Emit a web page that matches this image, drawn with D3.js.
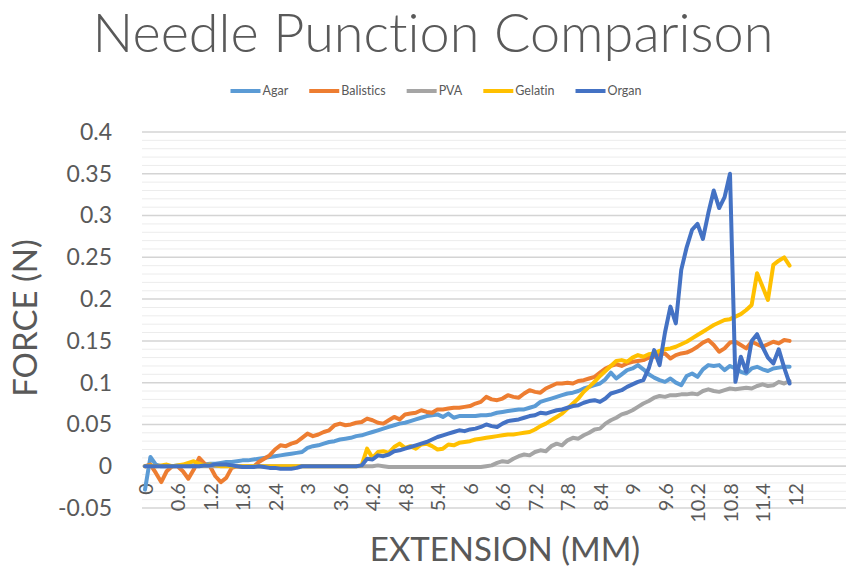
<!DOCTYPE html>
<html>
<head>
<meta charset="utf-8">
<script src="https://cdn.jsdelivr.net/npm/d3@7"></script>
<style>
  html, body { margin: 0; padding: 0; background: #fff; }
  svg { display: block; }
  text { font-family: Lato, "Open Sans", sans-serif; fill: #595959; font-variant-ligatures: none; }
</style>
</head>
<body>
<svg id="chart" width="859" height="569"></svg>
<script>
const title = "Needle Punction Comparison";
const xTitle = "EXTENSION (MM)";
const yTitle = "FORCE (N)";
const seriesNames = ["Agar", "Balistics", "PVA", "Gelatin", "Organ"];
const seriesColors = ["#5B9BD5", "#ED7D31", "#A5A5A5", "#FFC000", "#4472C4"];
const xTicks = [0, 0.6, 1.2, 1.8, 2.4, 3, 3.6, 4.2, 4.8, 5.4, 6, 6.6, 7.2, 7.8, 8.4, 9, 9.6, 10.2, 10.8, 11.4, 12];
const yTicks = [-0.05, 0, 0.05, 0.1, 0.15, 0.2, 0.25, 0.3, 0.35, 0.4];

const extension = [
  0.0,0.1,0.2,0.3,0.4,0.5,0.6,0.7,0.8,0.9,
  1.0,1.1,1.2,1.3,1.4,1.5,1.6,1.7,1.8,1.9,
  2.0,2.1,2.2,2.3,2.4,2.5,2.6,2.7,2.8,2.9,
  3.0,3.1,3.2,3.3,3.4,3.5,3.6,3.7,3.8,3.9,
  4.0,4.1,4.2,4.3,4.4,4.5,4.6,4.7,4.8,4.9,
  5.0,5.1,5.2,5.3,5.4,5.5,5.6,5.7,5.8,5.9,
  6.0,6.1,6.2,6.3,6.4,6.5,6.6,6.7,6.8,6.9,
  7.0,7.1,7.2,7.3,7.4,7.5,7.6,7.7,7.8,7.9,
  8.0,8.1,8.2,8.3,8.4,8.5,8.6,8.7,8.8,8.9,
  9.0,9.1,9.2,9.3,9.4,9.5,9.6,9.7,9.8,9.9,
  10.0,10.1,10.2,10.3,10.4,10.5,10.6,10.7,10.8,10.9,
  11.0,11.1,11.2,11.3,11.4,11.5,11.6,11.7,11.8,11.9
];

const agar = [
  -0.028,0.011,0.002,0.000,0.000,0.000,0.001,0.001,0.001,0.001,
  0.002,0.002,0.003,0.003,0.004,0.005,0.005,0.006,0.007,0.007,
  0.008,0.009,0.010,0.011,0.012,0.013,0.014,0.015,0.016,0.017,
  0.022,0.024,0.025,0.027,0.029,0.030,0.032,0.033,0.034,0.036,
  0.037,0.039,0.041,0.043,0.045,0.047,0.049,0.051,0.052,0.054,
  0.056,0.058,0.060,0.061,0.062,0.059,0.063,0.058,0.060,0.060,
  0.060,0.060,0.061,0.061,0.062,0.064,0.065,0.066,0.067,0.068,
  0.068,0.070,0.072,0.077,0.079,0.081,0.083,0.085,0.087,0.088,
  0.090,0.093,0.095,0.097,0.099,0.104,0.112,0.105,0.110,0.115,
  0.117,0.121,0.116,0.110,0.106,0.103,0.101,0.105,0.100,0.097,
  0.108,0.111,0.107,0.116,0.121,0.120,0.121,0.115,0.120,0.117,
  0.113,0.111,0.117,0.119,0.116,0.114,0.117,0.118,0.119,0.119
];

const balistics = [
  0.000,0.002,-0.008,-0.019,-0.006,0.000,0.000,-0.006,-0.015,-0.004,
  0.010,0.003,0.000,-0.012,-0.019,-0.014,-0.002,0.000,-0.001,-0.001,
  -0.001,0.005,0.009,0.013,0.020,0.025,0.024,0.027,0.029,0.034,
  0.039,0.036,0.038,0.041,0.043,0.049,0.051,0.049,0.050,0.052,
  0.053,0.057,0.055,0.052,0.051,0.055,0.059,0.056,0.062,0.063,
  0.064,0.067,0.065,0.064,0.068,0.068,0.069,0.070,0.070,0.071,
  0.072,0.075,0.077,0.083,0.080,0.079,0.081,0.085,0.083,0.082,
  0.087,0.091,0.089,0.088,0.093,0.096,0.099,0.099,0.100,0.099,
  0.102,0.103,0.105,0.107,0.112,0.117,0.120,0.122,0.120,0.123,
  0.125,0.126,0.127,0.130,0.131,0.134,0.135,0.129,0.133,0.135,
  0.136,0.139,0.143,0.148,0.151,0.145,0.137,0.141,0.148,0.149,
  0.145,0.141,0.149,0.146,0.143,0.146,0.149,0.147,0.151,0.150
];

const pva = [
  0.000,0.000,0.000,0.000,0.000,0.000,0.000,0.000,0.000,0.000,
  0.000,0.000,0.000,0.000,0.000,0.000,0.000,0.000,0.000,0.000,
  0.000,0.000,0.000,0.000,0.000,0.000,0.000,0.000,0.000,0.000,
  0.000,0.000,0.000,0.000,0.000,0.000,0.000,0.000,0.000,0.000,
  0.000,0.000,0.000,0.001,0.000,-0.001,-0.001,-0.001,-0.001,-0.001,
  -0.001,-0.001,-0.001,-0.001,-0.001,-0.001,-0.001,-0.001,-0.001,-0.001,
  -0.001,-0.001,-0.001,0.000,0.001,0.004,0.006,0.005,0.009,0.012,
  0.014,0.013,0.017,0.019,0.018,0.024,0.027,0.025,0.031,0.034,
  0.033,0.037,0.040,0.044,0.045,0.051,0.055,0.058,0.062,0.064,
  0.067,0.071,0.075,0.078,0.082,0.084,0.083,0.085,0.085,0.086,
  0.086,0.087,0.086,0.090,0.092,0.090,0.089,0.091,0.093,0.092,
  0.093,0.094,0.093,0.096,0.098,0.096,0.097,0.101,0.099,0.102
];

const gelatin = [
  0.000,0.001,0.000,0.001,0.002,0.000,0.001,0.002,0.004,0.006,
  0.003,0.001,0.002,0.001,0.000,0.000,0.000,0.000,0.000,0.000,
  0.000,0.000,0.000,0.000,0.000,0.000,0.000,0.000,0.000,0.000,
  0.000,0.000,0.000,0.000,0.000,0.000,0.000,0.000,0.000,0.000,
  0.001,0.021,0.010,0.017,0.018,0.016,0.023,0.027,0.022,0.024,
  0.021,0.026,0.027,0.024,0.020,0.021,0.026,0.025,0.028,0.029,
  0.030,0.032,0.033,0.034,0.035,0.036,0.037,0.038,0.038,0.039,
  0.040,0.041,0.044,0.048,0.051,0.055,0.059,0.063,0.069,0.075,
  0.081,0.089,0.095,0.101,0.108,0.114,0.120,0.126,0.127,0.125,
  0.130,0.133,0.131,0.134,0.135,0.138,0.140,0.141,0.143,0.146,
  0.149,0.153,0.157,0.161,0.165,0.169,0.172,0.175,0.176,0.179,
  0.182,0.187,0.193,0.231,0.215,0.199,0.241,0.246,0.250,0.240
];

const organ = [
  0.000,0.000,0.000,0.000,0.000,0.000,0.000,0.000,0.000,0.000,
  0.000,0.001,0.001,0.002,0.002,0.002,0.001,0.000,-0.001,-0.001,
  -0.001,0.000,-0.001,-0.002,-0.002,-0.003,-0.003,-0.003,-0.002,0.000,
  0.000,0.000,0.000,0.000,0.000,0.000,0.000,0.000,0.000,0.000,
  0.001,0.009,0.008,0.013,0.012,0.014,0.018,0.019,0.021,0.023,
  0.025,0.027,0.029,0.032,0.035,0.037,0.039,0.041,0.043,0.042,
  0.044,0.045,0.047,0.050,0.048,0.047,0.051,0.054,0.055,0.056,
  0.058,0.060,0.061,0.064,0.063,0.065,0.067,0.068,0.070,0.072,
  0.073,0.076,0.078,0.079,0.077,0.081,0.087,0.089,0.091,0.095,
  0.098,0.101,0.103,0.117,0.139,0.121,0.160,0.191,0.171,0.235,
  0.262,0.283,0.290,0.272,0.303,0.330,0.309,0.322,0.350,0.101,
  0.131,0.113,0.150,0.158,0.143,0.130,0.123,0.140,0.118,0.099
];

const seriesValues = [agar, balistics, pva, gelatin, organ];

const svg = d3.select("#chart");
const plotLeft = 142, plotRight = 846;

const x = d3.scaleLinear().domain([0, 12]).range([145, 795]);
const y = d3.scaleLinear().domain([-0.05, 0.4]).range([508, 132]);

// gridlines
const minor = d3.range(-50, 401, 10).map(v => v / 1000).filter(v => Math.round(v * 1000) % 50 !== 0);
svg.append("g").selectAll("line").data(minor).join("line")
  .attr("x1", plotLeft).attr("x2", plotRight)
  .attr("y1", d => y(d)).attr("y2", d => y(d))
  .attr("stroke", "#ececec").attr("stroke-width", 1);
svg.append("g").selectAll("line").data(yTicks).join("line")
  .attr("x1", plotLeft).attr("x2", plotRight)
  .attr("y1", d => y(d)).attr("y2", d => y(d))
  .attr("stroke", "#d4d4d4").attr("stroke-width", 1.5);

// title
svg.append("text").attr("x", 433).attr("y", 52)
  .attr("text-anchor", "middle").style("font-size", "54px").style("font-weight", 300)
  .text(title);

// legend
const legend = svg.append("g");
let lx = 0;
seriesNames.forEach((n, i) => {
  const g = legend.append("g").attr("transform", `translate(${lx},0)`);
  g.append("line").attr("x1", 0).attr("x2", 30).attr("y1", 0).attr("y2", 0)
    .attr("stroke", seriesColors[i]).attr("stroke-width", 4);
  const t = g.append("text").attr("x", 32).attr("y", 4).style("font-size", "12.5px").text(n);
  const w = t.node().getComputedTextLength();
  lx += 32 + w + 21;
});
const legW = lx - 21;
legend.attr("transform", `translate(${436 - legW / 2},91)`);

// y axis
const yAxis = svg.append("g").attr("transform", "translate(118,0)")
  .call(d3.axisLeft(y).tickValues(yTicks).tickSize(0).tickPadding(6).tickFormat(d => String(+d.toFixed(2))));
yAxis.select(".domain").remove();
yAxis.selectAll("text").style("font-size", "23px").style("font-family", "Lato, 'Open Sans', sans-serif").attr("fill", "#595959");

// x axis
const xAxis = svg.append("g").attr("transform", `translate(0,${y(0)})`)
  .call(d3.axisBottom(x).tickValues(xTicks).tickSize(0).tickFormat(d => String(+d.toFixed(1))));
xAxis.select(".domain").attr("stroke", "#d4d4d4").attr("stroke-width", 1.5)
  .attr("d", `M${plotLeft},0H${plotRight}`);
xAxis.selectAll("text")
  .attr("transform", "rotate(-90)")
  .attr("x", -17).attr("y", 0).attr("dy", "0.36em")
  .attr("text-anchor", "end")
  .style("font-size", "20px").style("font-family", "Lato, 'Open Sans', sans-serif").attr("fill", "#595959");

// lines
const line = d3.line().x((d, i) => x(extension[i])).y(d => y(d));
svg.append("g").selectAll("path").data(seriesValues).join("path")
  .attr("d", d => line(d))
  .attr("fill", "none")
  .attr("stroke", (d, i) => seriesColors[i])
  .attr("stroke-width", 4)
  .attr("stroke-linejoin", "round")
  .attr("stroke-linecap", "round");

// axis titles
svg.append("text").attr("x", 505).attr("y", 561)
  .attr("text-anchor", "middle").style("font-size", "33px").text(xTitle);
svg.append("text").attr("transform", "translate(37,318) rotate(-90)")
  .attr("text-anchor", "middle").style("font-size", "33px").text(yTitle);
</script>
</body>
</html>
